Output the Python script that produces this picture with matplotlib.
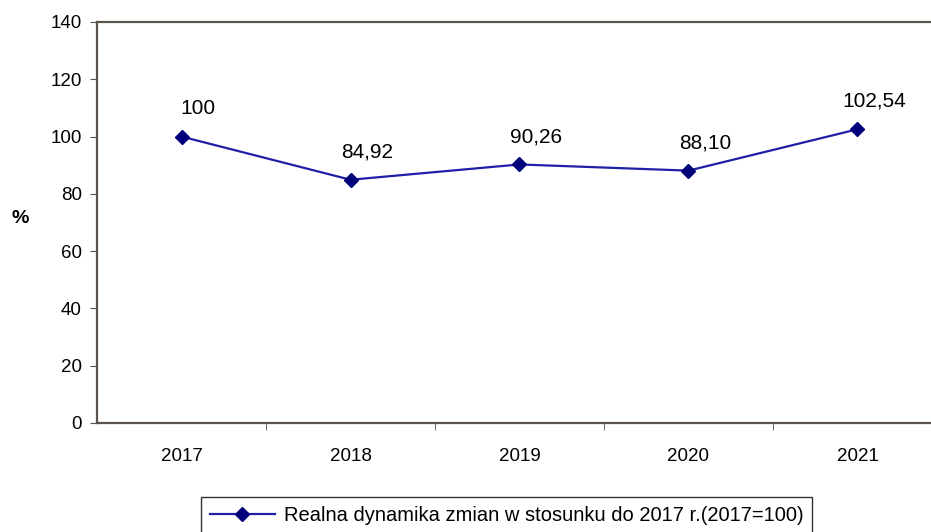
import matplotlib.pyplot as plt
import numpy as np

plt.rcParams['font.family'] = ['Liberation Sans', 'DejaVu Sans']

# real dynamics, 2017 = 100
years = ['2017', '2018', '2019', '2020', '2021']
values = [100, 84.92, 90.26, 88.10, 102.54]
labels = ['100', '84,92', '90,26', '88,10', '102,54']

line_color = '#1f1fa8'
marker_color = '#00007a'
spine_color = '#5b534d'

fig = plt.figure(figsize=(9.31, 5.32), dpi=100)
ax = fig.add_axes([0.1042, 0.2049, 0.9076, 0.7538])

x = np.arange(len(years))
ax.plot(x, values, color=line_color, lw=1.6, marker='D', ms=7,
        mfc=marker_color, mec=marker_color,
        label='Realna dynamika zmian w stosunku do 2017 r.(2017=100)')

for xi, v, t in zip(x, values, labels):
    ax.annotate(t, (xi, v), xytext=(12, 20), textcoords='offset points',
                ha='center', va='center', fontsize=15)

ax.set_xlim(-0.5, len(years) - 0.5)
ax.set_ylim(0, 140)
ax.set_yticks(range(0, 141, 20))
ax.set_xticks(x)
ax.set_xticklabels(years, fontsize=13.5)
ax.set_xticks(x[:-1] + 0.5, minor=True)
ax.tick_params(axis='x', which='major', length=0, pad=18)
ax.tick_params(axis='x', which='minor', length=5, direction='out', color=spine_color)
ax.tick_params(axis='y', length=5, direction='out', color=spine_color,
               labelsize=13.5, pad=6)

for s in ax.spines.values():
    s.set_color(spine_color)
    s.set_linewidth(1.6)

ax.set_ylabel('%', rotation=0, fontsize=14, fontweight='bold', va='center', ha='center')
ax.yaxis.set_label_coords(-0.091, 0.51)

# legend box hangs off the bottom edge of the figure
fig.legend(loc='upper left', bbox_to_anchor=(0.2159, 0.066), fontsize=14.5,
           frameon=True, fancybox=False, edgecolor='#333333', framealpha=1,
           handlelength=3.2, borderpad=0.45, handletextpad=0.45,
           borderaxespad=0)

fig.savefig('out.png', dpi=100)
